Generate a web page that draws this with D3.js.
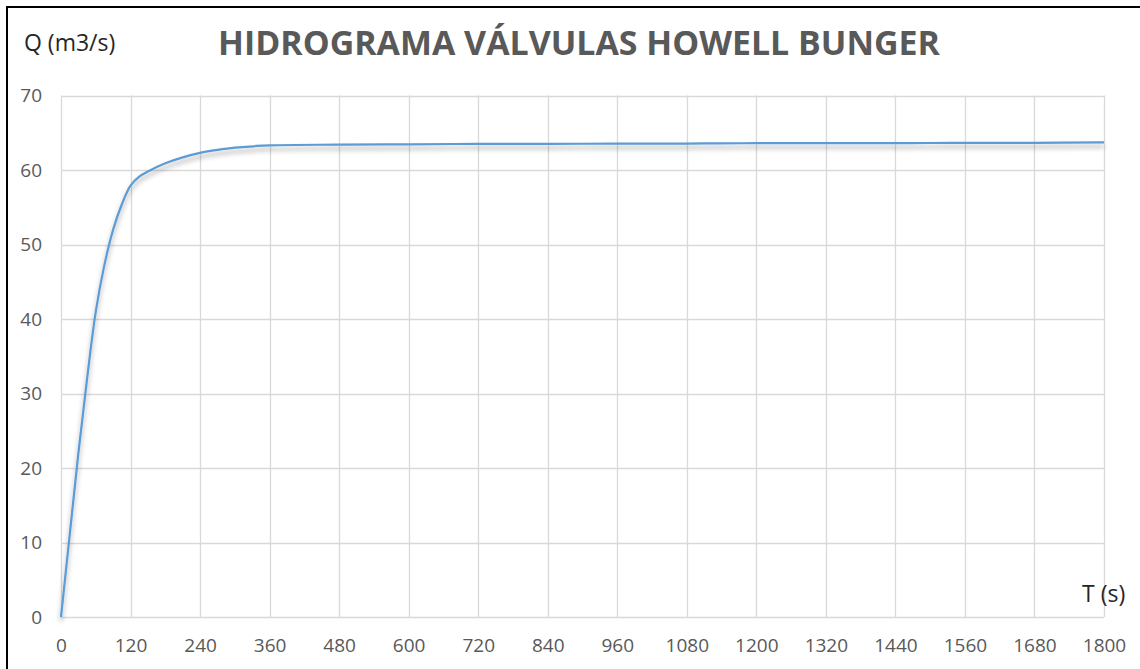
<!DOCTYPE html>
<html>
<head>
<meta charset="utf-8">
<script src="https://cdn.jsdelivr.net/npm/d3@7"></script>
<style>
  html, body { margin: 0; padding: 0; background: #fff; }
  svg { display: block; }
</style>
</head>
<body>
<svg id="chart" width="1140" height="669"></svg>
<script>
// Outflow hydrograph of the Howell-Bunger valves: time (s) vs discharge (m3/s)
const times = [0, 15, 30, 45, 60, 75, 90, 105, 120, 135, 150, 180, 210, 240, 270, 300, 360, 480, 600, 720, 840, 960, 1080, 1200, 1320, 1440, 1560, 1680, 1800];
const flows = [0, 11, 22, 32, 41, 47.3, 52, 55.4, 57.9, 59.1, 59.8, 60.9, 61.7, 62.3, 62.7, 63.0, 63.3, 63.4, 63.45, 63.5, 63.5, 63.55, 63.55, 63.6, 63.6, 63.6, 63.65, 63.65, 63.7];

const xTicks = [0, 120, 240, 360, 480, 600, 720, 840, 960, 1080, 1200, 1320, 1440, 1560, 1680, 1800];
const yTicks = [0, 10, 20, 30, 40, 50, 60, 70];

const titleText = "HIDROGRAMA VÁLVULAS HOWELL BUNGER";
const yTitle = "Q (m3/s)";
const xTitle = "T (s)";

const svg = d3.select("#chart");
const font = "'Open Sans', 'DejaVu Sans', sans-serif";

const x = d3.scaleLinear().domain([0, 1800]).range([61, 1104]);
const y = d3.scaleLinear().domain([0, 70]).range([617, 95.5]);

// drop shadow under the series line
const defs = svg.append("defs");
const f = defs.append("filter").attr("id", "shadow")
  .attr("x", "-5%").attr("y", "-20%").attr("width", "110%").attr("height", "160%");
f.append("feDropShadow").attr("dx", 0).attr("dy", 4).attr("stdDeviation", 2.8)
  .attr("flood-color", "#000").attr("flood-opacity", 0.35);

// frame
svg.append("rect").attr("x", 7).attr("y", 7).attr("width", 1160).attr("height", 700)
  .attr("fill", "none").attr("stroke", "#000").attr("stroke-width", 2);

// gridlines
svg.append("g").selectAll("line").data(yTicks).join("line")
  .attr("x1", x(0)).attr("x2", x(1800))
  .attr("y1", d => Math.round(y(d)) + 0.5).attr("y2", d => Math.round(y(d)) + 0.5)
  .attr("stroke", "#d9d9d9").attr("stroke-width", 1.3);
svg.append("g").selectAll("line").data(xTicks).join("line")
  .attr("x1", d => Math.round(x(d)) + 0.5).attr("x2", d => Math.round(x(d)) + 0.5)
  .attr("y1", y(70)).attr("y2", y(0))
  .attr("stroke", "#d9d9d9").attr("stroke-width", 1.3);

// axes (labels only)
const xAxis = d3.axisBottom(x).tickValues(xTicks).tickSize(0).tickPadding(22).tickFormat(d3.format("d"));
const yAxis = d3.axisLeft(y).tickValues(yTicks).tickSize(0).tickPadding(19).tickFormat(d3.format("d"));

const gx = svg.append("g").attr("transform", `translate(0,${y(0)})`).call(xAxis);
const gy = svg.append("g").attr("transform", `translate(${x(0)},0)`).call(yAxis);
[gx, gy].forEach(g => {
  g.select(".domain").remove();
  g.selectAll("text").attr("font-family", font).attr("font-size", 19).attr("fill", "#595959");
});
gx.selectAll("text").attr("dy", "0.71em");

// series line
const line = d3.line().x((d, i) => x(times[i])).y(d => y(d)).curve(d3.curveCatmullRom.alpha(0.5));
svg.append("path").datum(flows)
  .attr("d", line)
  .attr("fill", "none").attr("stroke", "#5b9bd5").attr("stroke-width", 2.2)
  .attr("filter", "url(#shadow)");

// titles
const t = svg.append("text").attr("x", 579).attr("y", 55).attr("text-anchor", "middle")
  .attr("font-family", font).attr("font-weight", "bold").attr("font-size", 30)
  .attr("fill", "#595959").text(titleText);
const w = t.node().getComputedTextLength();
t.attr("font-size", 30 * 722 / w);

svg.append("text").attr("x", 24).attr("y", 51)
  .attr("font-family", font).attr("font-size", 23).attr("fill", "#262626").text(yTitle);
svg.append("text").attr("x", 1082).attr("y", 602)
  .attr("font-family", font).attr("font-size", 23).attr("fill", "#262626").text(xTitle);
</script>
</body>
</html>
